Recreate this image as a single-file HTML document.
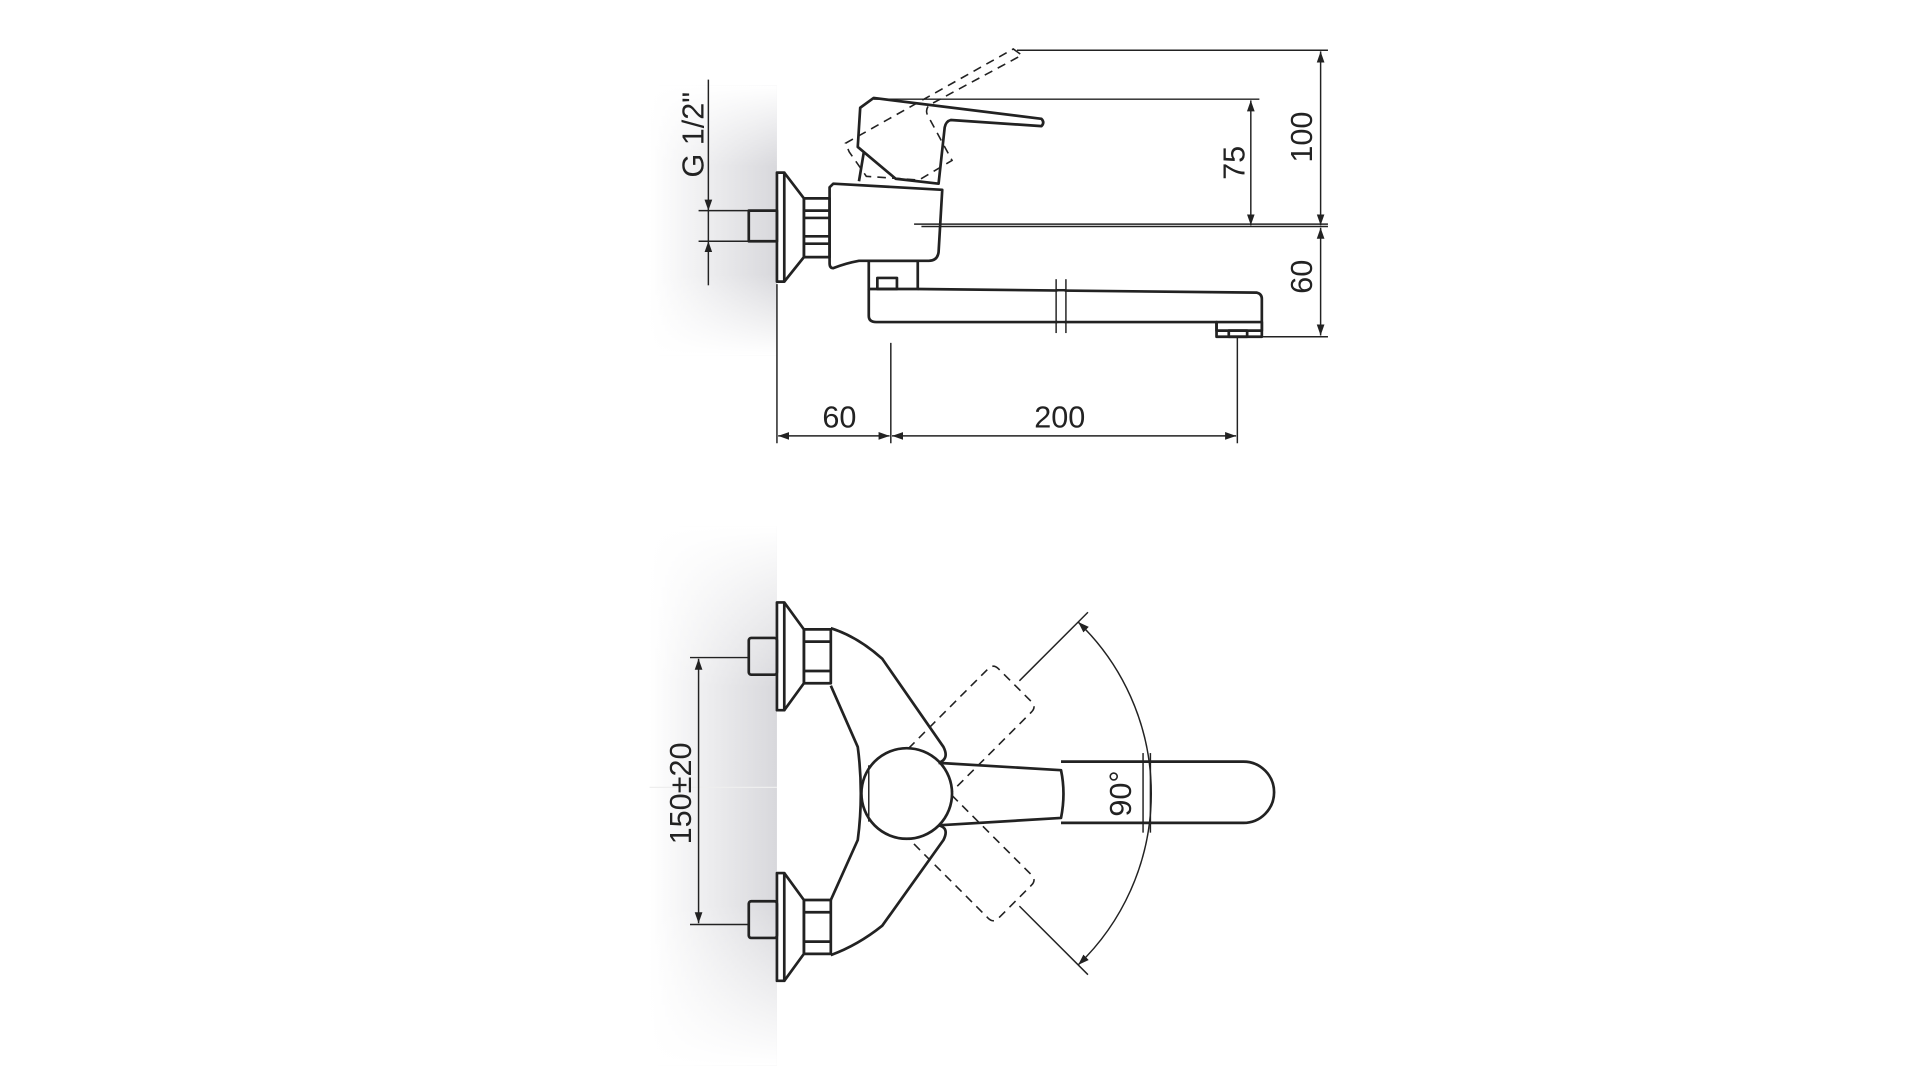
<!DOCTYPE html>
<html><head><meta charset="utf-8"><style>
html,body{margin:0;padding:0;background:#fff;width:1920px;height:1080px;overflow:hidden}
svg{display:block}
text{font-family:"Liberation Sans",sans-serif;fill:#222;font-size:25px}
</style></head><body>
<svg width="1920" height="1080" viewBox="0 0 1567 882" xmlns="http://www.w3.org/2000/svg">
<defs>
<linearGradient id="gh" x1="0" x2="1" y1="0" y2="0"><stop offset="0" stop-color="#fff"/><stop offset="1" stop-color="#d8d8dc"/></linearGradient>
<linearGradient id="gv" x1="0" x2="0" y1="0" y2="1"><stop offset="0" stop-color="#fff" stop-opacity="1"/><stop offset="0.3" stop-color="#fff" stop-opacity="0"/><stop offset="0.7" stop-color="#fff" stop-opacity="0"/><stop offset="1" stop-color="#fff" stop-opacity="1"/></linearGradient>
<marker id="a" viewBox="0 0 10 10" refX="10" refY="5" markerWidth="9" markerHeight="9" orient="auto-start-reverse" markerUnits="userSpaceOnUse"><path d="M0,1.5 L10,5 L0,8.5 Z" fill="#222"/></marker>
</defs>
<rect x="530" y="70" width="104" height="220" fill="url(#gh)"/>
<rect x="530" y="70" width="104" height="220" fill="url(#gv)"/>
<rect x="530" y="430" width="104" height="440" fill="url(#gh)"/>
<rect x="530" y="430" width="104" height="440" fill="url(#gv)"/>
<line x1="530" y1="643" x2="634" y2="643" stroke="#eee" stroke-width="1"/>

<g fill="none" stroke="#222" stroke-width="1.2">
<line x1="830" y1="41" x2="1084" y2="41"/>
<line x1="713" y1="81" x2="1028" y2="81"/>
<line x1="752" y1="185" x2="1084" y2="185"/>
<line x1="1000" y1="275" x2="1084" y2="275"/>
<line x1="1078" y1="42" x2="1078" y2="184" marker-start="url(#a)" marker-end="url(#a)"/>
<line x1="1078" y1="186" x2="1078" y2="274" marker-start="url(#a)" marker-end="url(#a)"/>
<line x1="1021" y1="82" x2="1021" y2="184" marker-start="url(#a)" marker-end="url(#a)"/>
<line x1="634" y1="232" x2="634" y2="362"/>
<line x1="727" y1="280" x2="727" y2="362"/>
<line x1="1010" y1="275" x2="1010" y2="362"/>
<line x1="635" y1="356" x2="726" y2="356" marker-start="url(#a)" marker-end="url(#a)"/>
<line x1="728" y1="356" x2="1009" y2="356" marker-start="url(#a)" marker-end="url(#a)"/>
<line x1="578" y1="65" x2="578" y2="172" marker-end="url(#a)"/>
<line x1="578" y1="233" x2="578" y2="197" marker-end="url(#a)"/>
<line x1="570" y1="172" x2="611" y2="172"/>
<line x1="570" y1="197" x2="611" y2="197"/>
<line x1="578" y1="172" x2="578" y2="197"/>
</g>
<g fill="none" stroke="#222" stroke-width="2.2" stroke-linejoin="round">
<rect x="634" y="141" width="6" height="89"/>
<path d="M640,141 L656,162 L656,210 L640,230"/>
<rect x="656" y="162" width="21" height="48"/>
<line x1="656" y1="172" x2="677" y2="172"/><line x1="656" y1="178" x2="677" y2="178"/>
<line x1="656" y1="193" x2="677" y2="193"/><line x1="656" y1="199" x2="677" y2="199"/>
<rect x="611" y="172" width="23" height="25"/>
<path d="M677,153 L680,150 L769,155 L766,206 Q765,213 758,213 L701,213 Q690,215 680,219 Q677,219 677,215 Z"/>
<path d="M713,80 L850,97 Q853,100 850,103 L776,98 Q772,99 771,104 L766,150 L731,146 L700,120 L702,88 Z"/>
<path d="M705,124 L701,148"/>
<rect x="709" y="213" width="40" height="23"/>
<rect x="716" y="227" width="16" height="9"/>
<path d="M749,236 L1026,239 Q1030,240 1030,244 L1030,270 L993,270 L993,263 L715,263 Q709,263 709,258 L709,236"/>
<rect x="993" y="263" width="37" height="12"/>
<rect x="1003" y="270" width="15" height="5"/>
</g>
<line x1="746" y1="183" x2="1084" y2="183" stroke="#222" stroke-width="1.2"/>
<g stroke="#222" stroke-width="1.2"><line x1="862" y1="228" x2="862" y2="272"/><line x1="870" y1="228" x2="870" y2="272"/></g>
<rect x="863" y="234" width="6" height="34" fill="#fff"/>
<line x1="862" y1="237" x2="870" y2="237" stroke="#222" stroke-width="2"/><line x1="862" y1="263" x2="870" y2="263" stroke="#222" stroke-width="2"/>
<path d="M827,40 L834,45 L758,86 Q755,90 757,94 L777,131 L750,147 L707,144 L693,124 L690,117 Z" fill="none" stroke="#222" stroke-width="1.3" stroke-dasharray="7,5"/>
<text x="685" y="349" text-anchor="middle">60</text>
<text x="865" y="349" text-anchor="middle">200</text>
<text transform="translate(1071,112) rotate(-90)" text-anchor="middle">100</text>
<text transform="translate(1016,133) rotate(-90)" text-anchor="middle">75</text>
<text transform="translate(1071,226) rotate(-90)" text-anchor="middle">60</text>
<text transform="translate(574,110) rotate(-90)" text-anchor="middle">G 1/2"</text>

<g fill="none" stroke="#222" stroke-width="1.2">
<line x1="563" y1="537" x2="611" y2="537"/>
<line x1="563" y1="755" x2="611" y2="755"/>
<line x1="570" y1="538" x2="570" y2="754" marker-start="url(#a)" marker-end="url(#a)"/>
<line x1="832" y1="556" x2="888" y2="500"/>
<line x1="832" y1="740" x2="888" y2="796"/>
<path d="M880,508 A194,194 0 0 1 880,788" marker-start="url(#a)" marker-end="url(#a)"/>
</g>
<text transform="translate(564,648) rotate(-90)" text-anchor="middle">150±20</text>
<g fill="none" stroke="#222" stroke-width="2.2" stroke-linejoin="round">
<rect x="634" y="492" width="6" height="88"/>
<path d="M640,492 L656,514 L656,558 L640,580"/>
<rect x="656" y="514" width="22" height="44"/>
<line x1="656" y1="524" x2="678" y2="524"/><line x1="656" y1="548" x2="678" y2="548"/>
<rect x="611" y="521" width="23" height="30" rx="2"/>
<rect x="634" y="713" width="6" height="88"/>
<path d="M640,713 L656,735 L656,779 L640,801"/>
<rect x="656" y="735" width="22" height="44"/>
<line x1="656" y1="745" x2="678" y2="745"/><line x1="656" y1="769" x2="678" y2="769"/>
<rect x="611" y="736" width="23" height="30" rx="2"/>
<path d="M678,513 Q700,520 720,538 L770,610 Q775,620 766,623"/>
<path d="M678,780 Q700,772 720,756 L770,686 Q775,676 766,674"/>
<path d="M678,560 L700,610 Q705,648 700,686 L678,735"/>
<circle cx="740" cy="648" r="37"/>
<path d="M766,623 L866,629 Q870,648 866,668 L766,674"/>
<path d="M866,622 L1015,622 A25,25 0 0 1 1015,672 L866,672"/>
</g>
<line x1="709" y1="625" x2="709" y2="671" stroke="#222" stroke-width="1.2"/>
<g stroke="#222" stroke-width="1.2"><line x1="933" y1="615" x2="933" y2="680"/><line x1="939" y1="615" x2="939" y2="680"/></g>
<g fill="none" stroke="#222" stroke-width="1.3" stroke-dasharray="7,5">
<path d="M767,623 L859,623 Q865,623 865,629 L865,667 Q865,673 859,673 L767,673" transform="rotate(-45 740 648)"/>
<path d="M767,623 L859,623 Q865,623 865,629 L865,667 Q865,673 859,673 L767,673" transform="rotate(45 740 648)"/>
<path d="M768,624 A37,37 0 0 1 768,672"/>
</g>
<text transform="translate(923,648) rotate(-90)" text-anchor="middle">90°</text>
</svg>
</body></html>
